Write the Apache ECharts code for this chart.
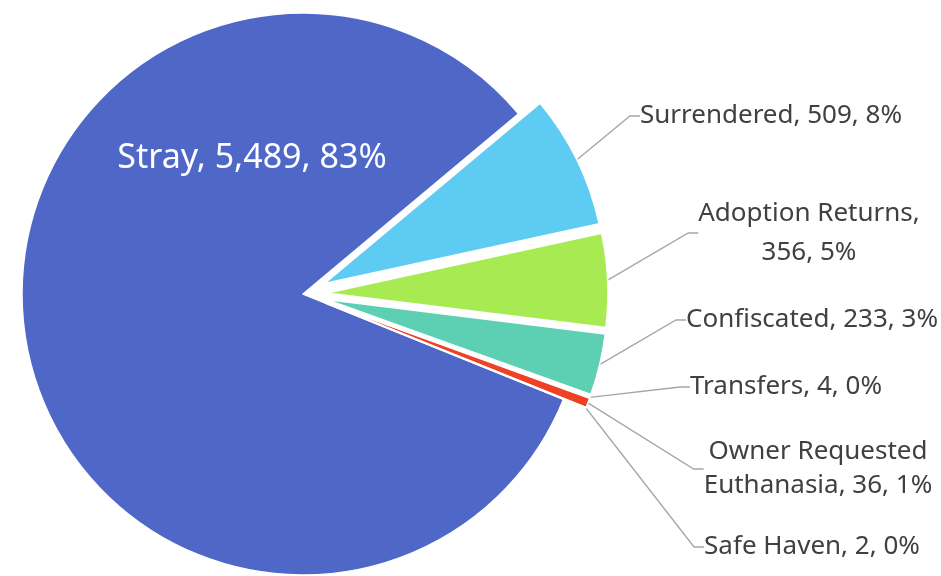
<!DOCTYPE html>
<html>
<head>
<meta charset="utf-8">
<script src="https://cdn.jsdelivr.net/npm/echarts@6/dist/echarts.min.js"></script>
<style>
  html, body { margin: 0; padding: 0; background: #fff; }
  #chart { width: 941px; height: 576px; }
</style>
</head>
<body>
<div id="chart"></div>
<script>
// data
const categories = ['Stray', 'Surrendered', 'Adoption Returns', 'Confiscated', 'Transfers', 'Owner Requested Euthanasia', 'Safe Haven']
const counts = [5489, 509, 356, 233, 4, 36, 2]

// styling
const colors = ['#4F68C8', '#5DCBF2', '#A8EA52', '#5DCFB2', '#8064A2', '#EE4126', '#F79646']
const exploded = [false, true, true, true, true, true, true]
// where Excel wrapped the label text
const breakAfter = [null, null, 'Returns, ', null, null, 'Requested ', null]
// label box centres (px) and line spacing of the wrapped labels
const labelCenters = [[252, 158], [771, 116], [809, 233], [812, 320], [786, 387], [818, 469], [812, 547]]
const labelLineHeights = [null, null, 39, null, null, 34, null]

const pieCenter = [303, 294]
const pieRadius = 281
const explode = 24

var myChart = echarts.init(document.getElementById('chart'), null, { renderer: 'canvas' })

var option = {
  animation: false,
  backgroundColor: '#fff',
  textStyle: { fontFamily: 'Noto Sans' },
  series: [
    {
      // the slices
      type: 'pie',
      center: pieCenter,
      radius: pieRadius,
      startAngle: -22,
      clockwise: true,
      selectedMode: 'multiple',
      selectedOffset: explode,
      emphasis: { disabled: true },
      itemStyle: { borderColor: '#fff', borderWidth: 1.5 },
      label: { show: false },
      labelLine: { show: false },
      data: categories.map(function (name, i) {
        return {
          name: name,
          value: counts[i],
          selected: exploded[i],
          itemStyle: { color: colors[i] },
          select: { itemStyle: { color: colors[i], borderColor: '#fff', borderWidth: 1.5 } }
        }
      })
    },
    {
      // invisible copy that carries the data labels and leader lines
      type: 'pie',
      silent: true,
      center: pieCenter,
      radius: pieRadius + explode,
      startAngle: -22,
      clockwise: true,
      percentPrecision: 0,
      avoidLabelOverlap: false,
      emphasis: { disabled: true },
      itemStyle: { color: 'rgba(0,0,0,0)', borderWidth: 0 },
      label: {
        show: true,
        position: 'outside',
        color: '#404040',
        fontFamily: 'Noto Sans',
        fontSize: 26,
        lineHeight: 35,
        align: 'center',
        formatter: function (p) {
          var s = p.name + ', ' + p.value.toLocaleString('en-US') + ', ' + p.percent + '%'
          var b = breakAfter[p.dataIndex]
          if (b) s = s.replace(b, b.trim() + '\n')
          return s
        }
      },
      labelLine: {
        show: true,
        length: 20,
        length2: 10,
        lineStyle: { color: '#A6A6A6', width: 1.3 }
      },
      labelLayout: function (params) {
        var c = labelCenters[params.dataIndex]
        return { x: c[0], y: c[1], align: 'center', verticalAlign: 'middle' }
      },
      data: categories.map(function (name, i) {
        var item = { name: name, value: counts[i] }
        if (i === 0) {
          item.label = { color: '#fff', fontSize: 34 }
          item.labelLine = { show: false }
        } else if (labelLineHeights[i]) {
          item.label = { lineHeight: labelLineHeights[i] }
        }
        return item
      })
    }
  ]
}

myChart.setOption(option, true)
</script>
</body>
</html>
